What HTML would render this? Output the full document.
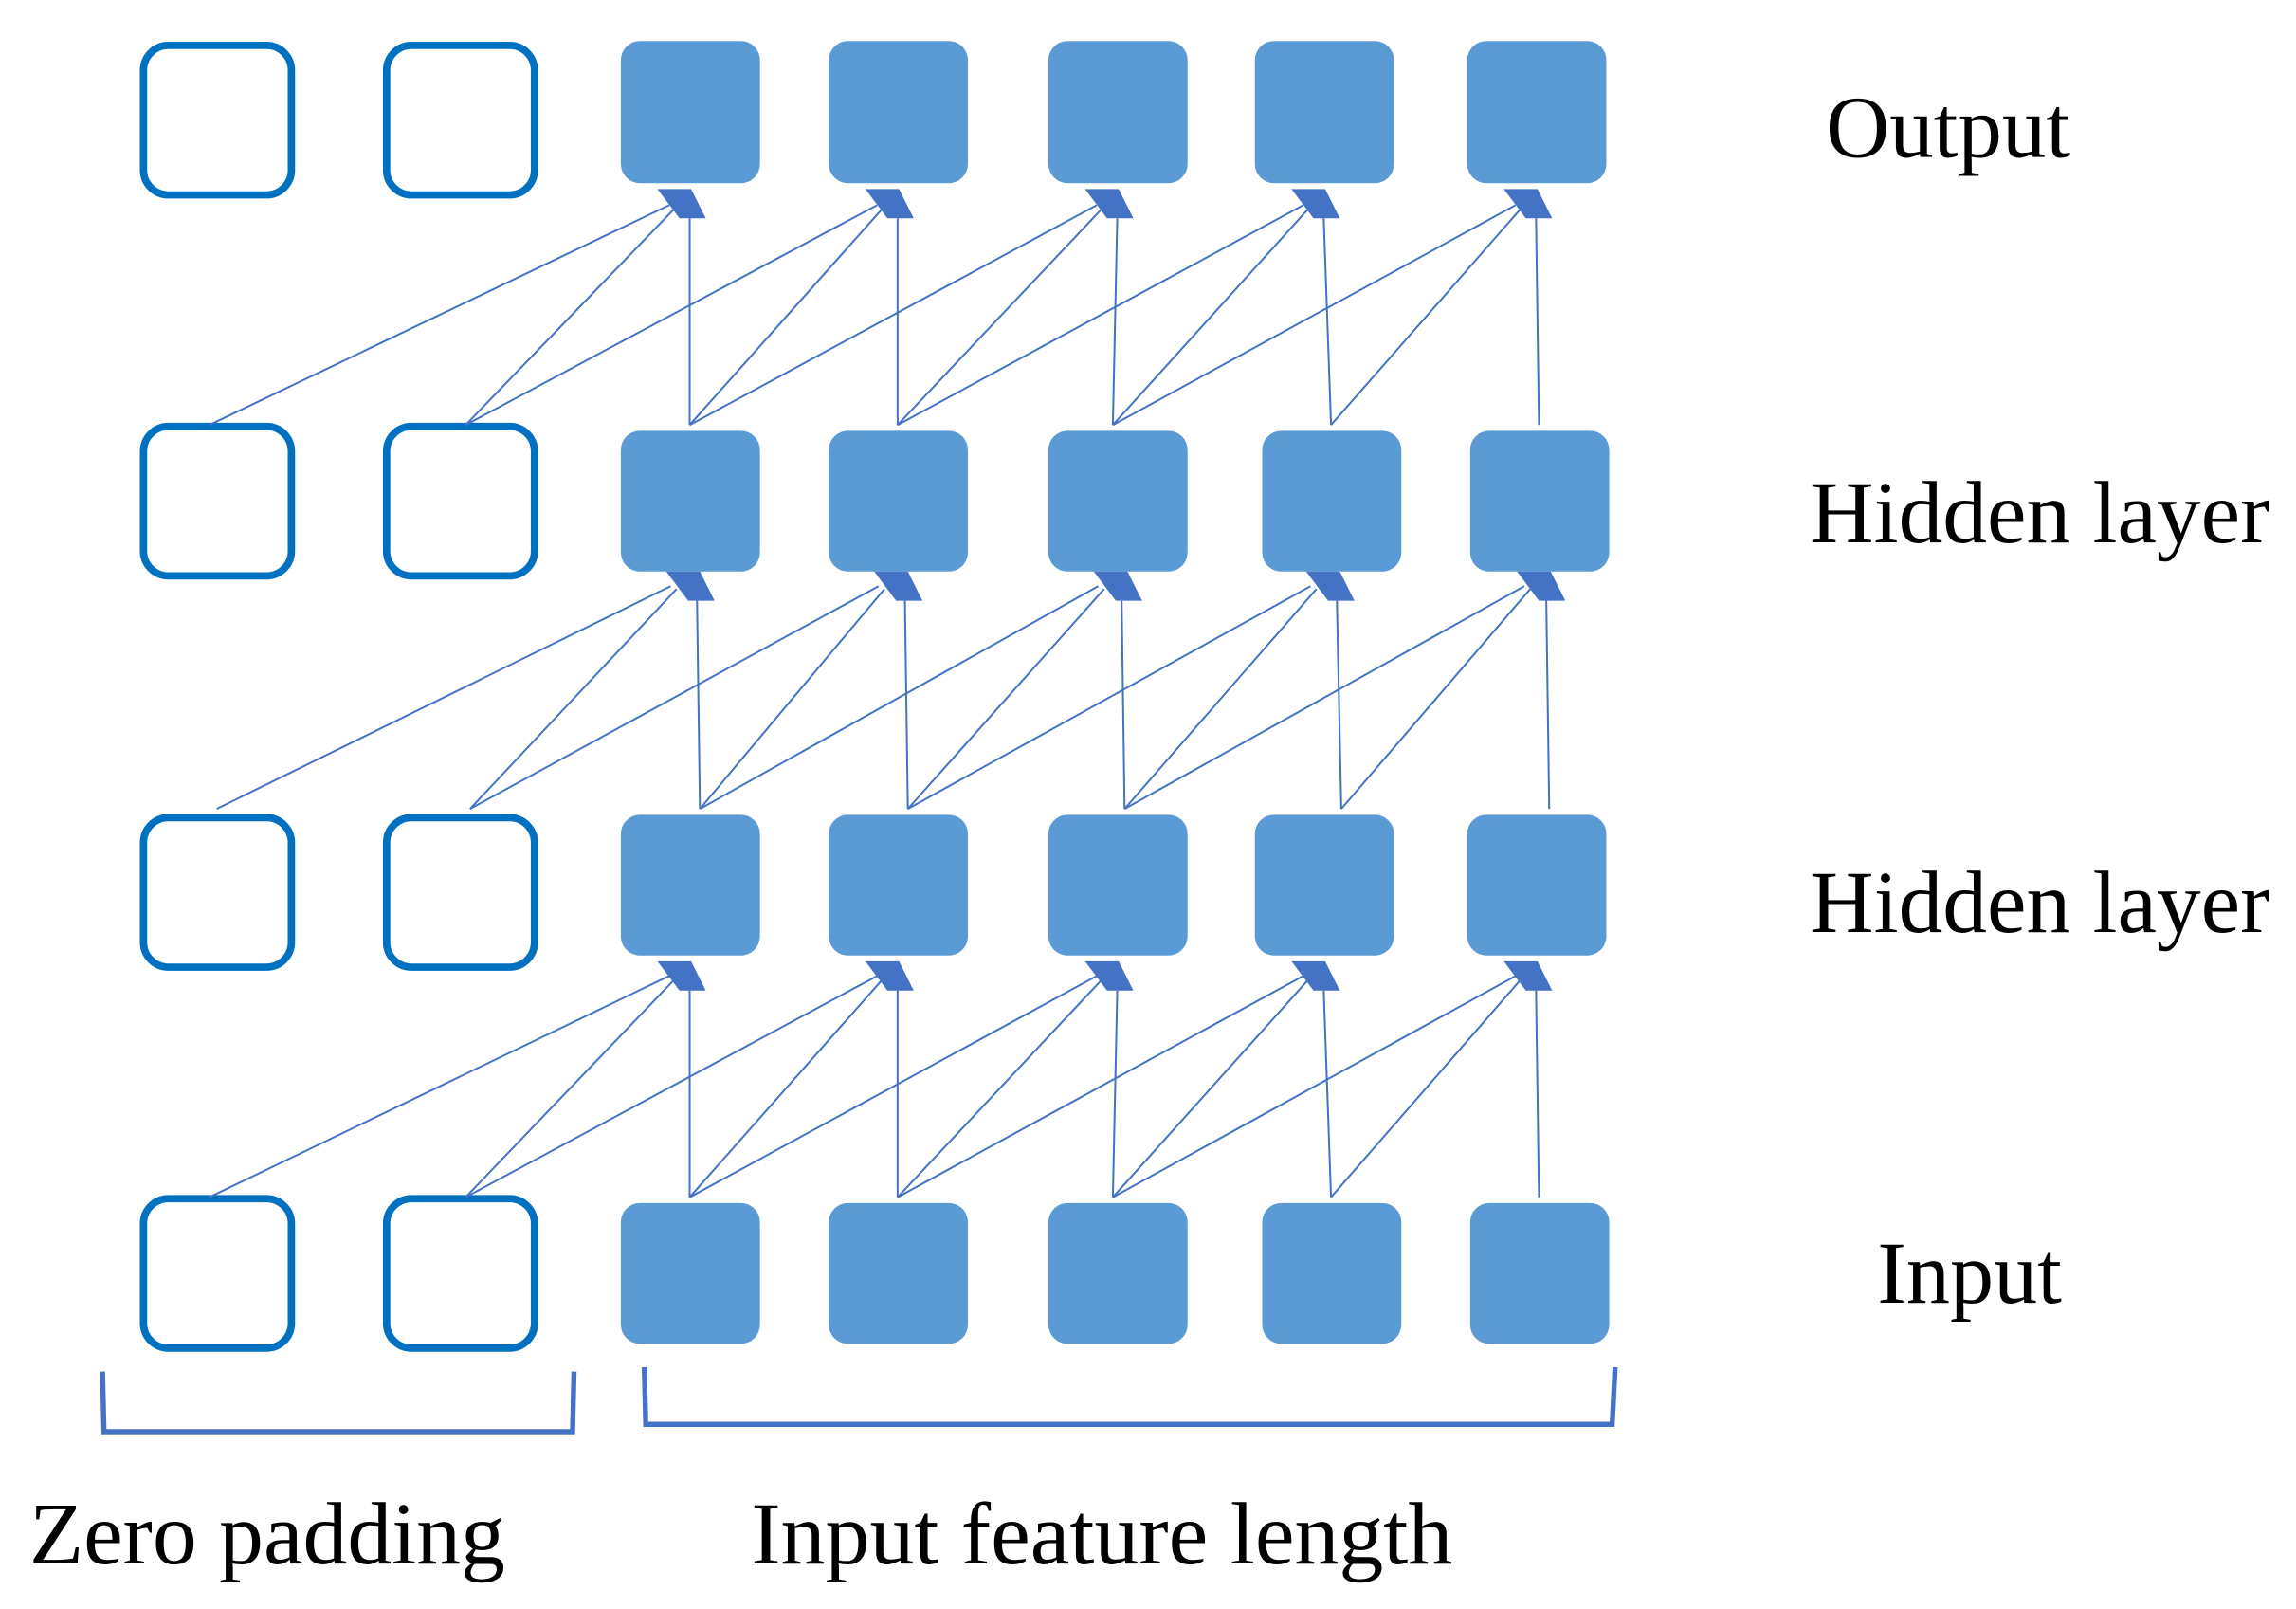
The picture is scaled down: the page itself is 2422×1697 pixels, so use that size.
<!DOCTYPE html>
<html><head><style>html,body{margin:0;padding:0;background:#fff;}svg{display:block}</style></head>
<body>
<svg width="2422" height="1697" viewBox="0 0 1568 1098" preserveAspectRatio="none" xmlns="http://www.w3.org/2000/svg">
<g fill="none" stroke="#0070C0" stroke-width="5">
<rect x="98" y="31" width="101" height="102" rx="17"/><rect x="264" y="31" width="101" height="102" rx="17"/>
<rect x="98" y="291" width="101" height="102" rx="17"/><rect x="264" y="291" width="101" height="102" rx="17"/>
<rect x="98" y="558" width="101" height="102" rx="17"/><rect x="264" y="558" width="101" height="102" rx="17"/>
<rect x="98" y="818" width="101" height="102" rx="17"/><rect x="264" y="818" width="101" height="102" rx="17"/>
</g>
<g fill="#5B9BD5">
<rect x="424" y="28" width="95" height="97" rx="13"/><rect x="566" y="28" width="95" height="97" rx="13"/><rect x="716" y="28" width="95" height="97" rx="13"/><rect x="857" y="28" width="95" height="97" rx="13"/><rect x="1002" y="28" width="95" height="97" rx="13"/>
<rect x="424" y="294" width="95" height="96" rx="13"/><rect x="566" y="294" width="95" height="96" rx="13"/><rect x="716" y="294" width="95" height="96" rx="13"/><rect x="862" y="294" width="95" height="96" rx="13"/><rect x="1004" y="294" width="95" height="96" rx="13"/>
<rect x="424" y="556" width="95" height="96" rx="13"/><rect x="566" y="556" width="95" height="96" rx="13"/><rect x="716" y="556" width="95" height="96" rx="13"/><rect x="857" y="556" width="95" height="96" rx="13"/><rect x="1002" y="556" width="95" height="96" rx="13"/>
<rect x="424" y="821" width="95" height="96" rx="13"/><rect x="566" y="821" width="95" height="96" rx="13"/><rect x="716" y="821" width="95" height="96" rx="13"/><rect x="862" y="821" width="95" height="96" rx="13"/><rect x="1004" y="821" width="95" height="96" rx="13"/>
</g>
<g stroke="#4472C4" stroke-width="1.3" fill="none">
<!-- row1 (output) from row2 -->
<path d="M143 290L457 140M318 290L461 142M471 290L471 149"/>
<path d="M318 290L599 140M471 290L603 142M613 290L613 149"/>
<path d="M471 290L749 140M613 290L753 142M760 290L763 149"/>
<path d="M613 290L890 140M760 290L894 142M909 290L904 149"/>
<path d="M760 290L1035 140M909 290L1039 142M1051 290L1049 149"/>
<!-- row2 from row3 -->
<path d="M148 552L458 400M321 552L462 402M478 552L476 410"/>
<path d="M321 552L600 400M478 552L604 402M620 552L618 410"/>
<path d="M478 552L750 400M620 552L754 402M768 552L766 410"/>
<path d="M620 552L895 400M768 552L899 402M916 552L913 410"/>
<path d="M768 552L1041 400M916 552L1045 402M1058 552L1056 410"/>
<!-- row3 from row4 -->
<path d="M143 817L457 666M318 817L461 668M471 817L471 676"/>
<path d="M318 817L599 666M471 817L603 668M613 817L613 676"/>
<path d="M471 817L749 666M613 817L753 668M760 817L763 676"/>
<path d="M613 817L890 666M760 817L894 668M909 817L904 676"/>
<path d="M760 817L1035 666M909 817L1039 668M1051 817L1049 676"/>
</g>
<g fill="#4472C4">
<polygon points="449,129 472,129 482,149 464,149"/>
<polygon points="591,129 614,129 624,149 606,149"/>
<polygon points="741,129 764,129 774,149 756,149"/>
<polygon points="882,129 905,129 915,149 897,149"/>
<polygon points="1027,129 1050,129 1060,149 1042,149"/>
<polygon points="455,390 478,390 488,410 470,410"/>
<polygon points="597,390 620,390 630,410 612,410"/>
<polygon points="747,390 770,390 780,410 762,410"/>
<polygon points="892,390 915,390 925,410 907,410"/>
<polygon points="1036,390 1059,390 1069,410 1051,410"/>
<polygon points="449,656 472,656 482,676 464,676"/>
<polygon points="591,656 614,656 624,676 606,676"/>
<polygon points="741,656 764,656 774,676 756,676"/>
<polygon points="882,656 905,656 915,676 897,676"/>
<polygon points="1027,656 1050,656 1060,676 1042,676"/>
</g>
<g stroke="#4472C4" stroke-width="3.5" fill="none">
<path d="M70 936L71 977L391 977L392 936"/>
<path d="M440 933L441 972L1101 972L1103 933"/>
</g>
<g font-family="'Liberation Serif', serif" font-size="60" fill="#000">
<text x="1247" y="107" textLength="167" lengthAdjust="spacingAndGlyphs">Output</text>
<text x="1236" y="370" textLength="314" lengthAdjust="spacingAndGlyphs">Hidden layer</text>
<text x="1236" y="636" textLength="314" lengthAdjust="spacingAndGlyphs">Hidden layer</text>
<text x="1282" y="889" textLength="126" lengthAdjust="spacingAndGlyphs">Input</text>
<text x="20" y="1067" textLength="325" lengthAdjust="spacingAndGlyphs">Zero padding</text>
<text x="513" y="1067" textLength="479" lengthAdjust="spacingAndGlyphs">Input feature length</text>
</g>
</svg>
</body></html>
